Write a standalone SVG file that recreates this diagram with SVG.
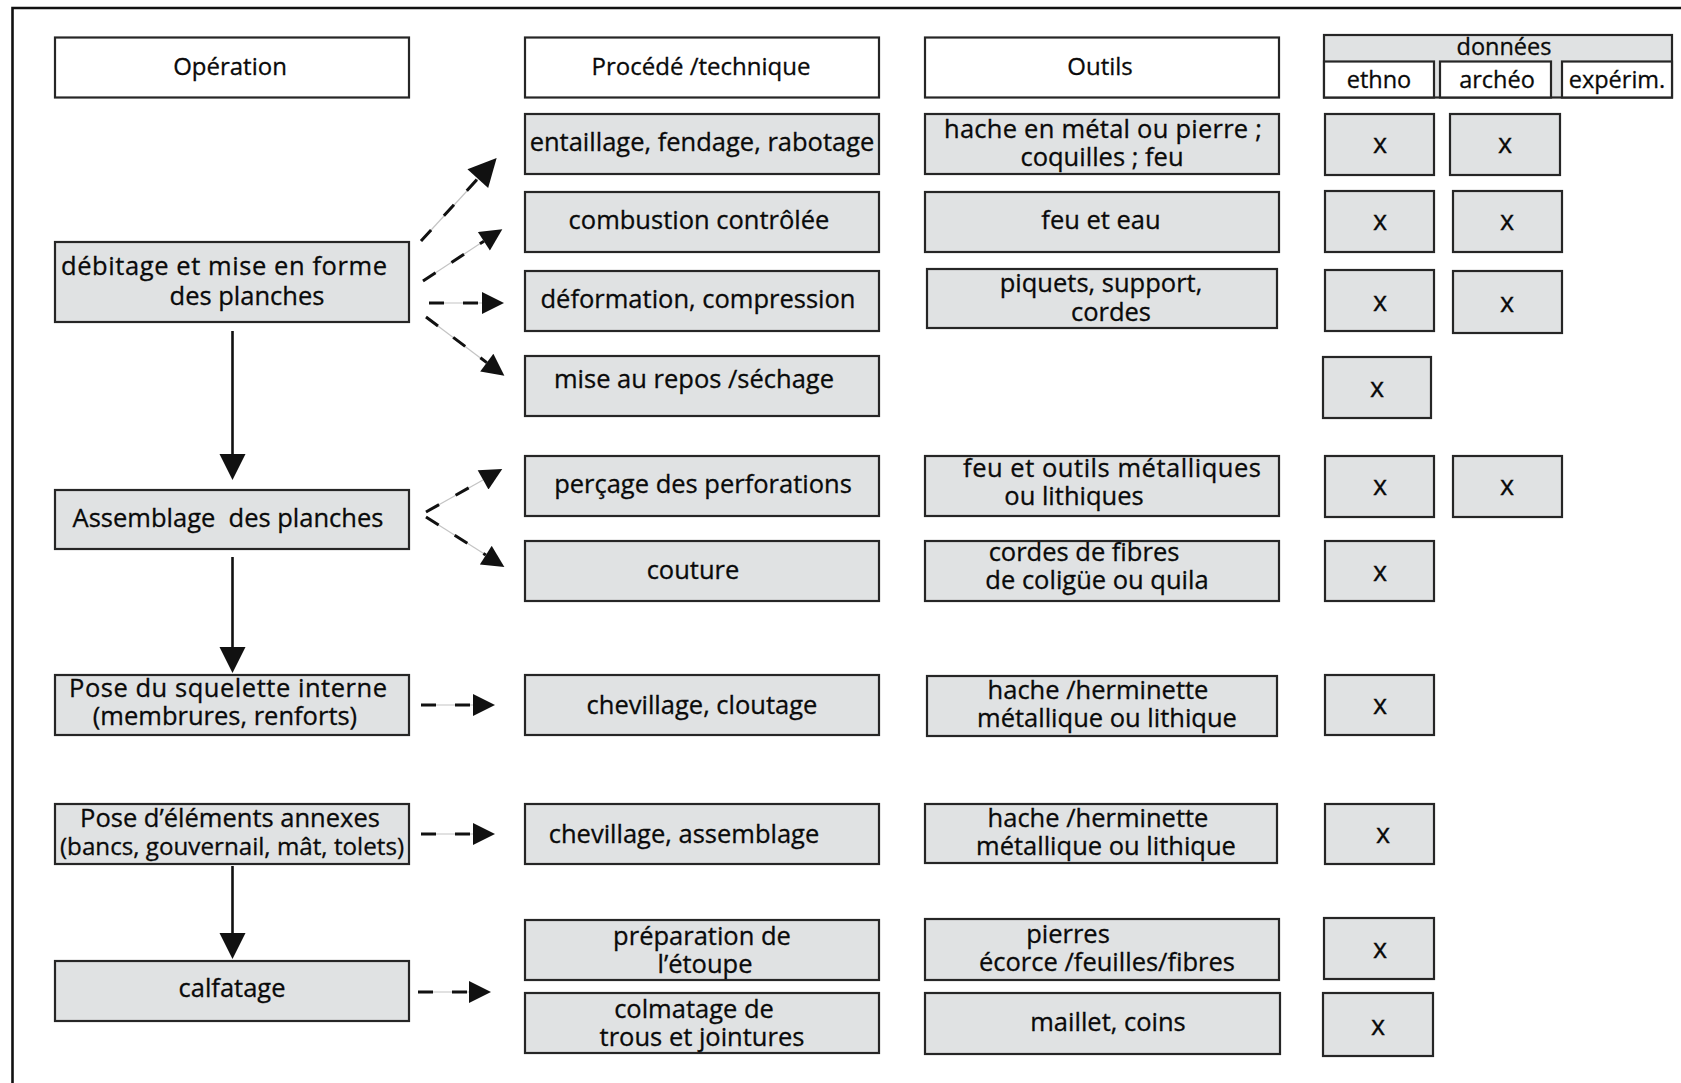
<svg xmlns="http://www.w3.org/2000/svg" width="1681" height="1083" viewBox="0 0 1681 1083">
<style>
  .box { fill: #e0e2e3; stroke: #262626; stroke-width: 2.2; }
  .hdr { fill: #ffffff; stroke: #262626; stroke-width: 2.2; }
  text { font-family: "Open Sans", "Noto Sans", "Liberation Sans", sans-serif; fill: #0a0a0a; stroke: #0a0a0a; stroke-width: 0.3; text-anchor: middle; }
  .t { font-size: 25.5px; }
  .s { font-size: 24.2px; }
  .h { font-size: 24px; }
  .d { font-size: 23.5px; }
  .x { font-size: 27px; }
  .solid { stroke: #111; stroke-width: 2.6; fill: none; }
  .faint { stroke: #c4c4c4; stroke-width: 1.2; fill: none; }
  .dash { stroke: #111; stroke-width: 3; fill: none; stroke-dasharray: 15 19; }
</style>
<defs>
  <marker id="ahBig" viewBox="0 0 10 10" refX="0" refY="5" markerWidth="26" markerHeight="28" markerUnits="userSpaceOnUse" orient="auto">
    <path d="M0,0 L10,5 L0,10 z" fill="#111"/>
  </marker>
  <marker id="ah" viewBox="0 0 10 10" refX="0" refY="5" markerWidth="24" markerHeight="22" markerUnits="userSpaceOnUse" orient="auto">
    <path d="M0,0 L10,5 L0,10 z" fill="#111"/>
  </marker>
  <marker id="ahA" viewBox="0 0 10 10" refX="0" refY="5" markerWidth="36" markerHeight="28" markerUnits="userSpaceOnUse" orient="auto">
    <path d="M0,0 L10,5 L0,10 z" fill="#111"/>
  </marker>
</defs>

<!-- frame -->
<path d="M12.5,1083 V8 H1681" fill="none" stroke="#111" stroke-width="2.6"/>

<!-- headers -->
<g id="hdr-operation"><rect class="hdr" x="55" y="37.5" width="354" height="60"/><text class="h" x="230" y="75">Opération</text></g>
<g id="hdr-procede"><rect class="hdr" x="525" y="37.5" width="354" height="60"/><text class="h" x="701" y="75">Procédé /technique</text></g>
<g id="hdr-outils"><rect class="hdr" x="925" y="37.5" width="354" height="60"/><text class="h" x="1100" y="75">Outils</text></g>
<g id="hdr-donnees">
  <rect class="box" x="1324" y="35" width="348" height="62.5"/>
  <text class="d" x="1504" y="55">données</text>
  <rect class="hdr" x="1324" y="61.5" width="110" height="36"/><text class="d" x="1379" y="88">ethno</text>
  <rect class="hdr" x="1440" y="61.5" width="111" height="36"/><text class="d" x="1497" y="88">archéo</text>
  <rect class="hdr" x="1562" y="61.5" width="110" height="36"/><text class="d" x="1617" y="88">expérim.</text>
</g>

<!-- operation column -->
<g id="op-debitage"><rect class="box" x="55" y="242" width="354" height="80"/><text class="t" x="224" y="275" textLength="326">débitage et mise en forme</text><text class="t" x="247" y="305">des planches</text></g>
<g id="op-assemblage"><rect class="box" x="55" y="490" width="354" height="59"/><text class="t" x="228" y="527" xml:space="preserve">Assemblage  des planches</text></g>
<g id="op-squelette"><rect class="box" x="55" y="675" width="354" height="60"/><text class="t" x="228" y="697" textLength="318">Pose du squelette interne</text><text class="t" x="225" y="725">(membrures, renforts)</text></g>
<g id="op-annexes"><rect class="box" x="55" y="804" width="354" height="60"/><text class="t" x="230" y="827">Pose d’éléments annexes</text><text class="s" x="232" y="855">(bancs, gouvernail, mât, tolets)</text></g>
<g id="op-calfatage"><rect class="box" x="55" y="961" width="354" height="60"/><text class="t" x="232" y="997">calfatage</text></g>

<!-- procédé column -->
<g id="pr-entaillage"><rect class="box" x="525" y="114" width="354" height="60"/><text class="t" x="702" y="151">entaillage, fendage, rabotage</text></g>
<g id="pr-combustion"><rect class="box" x="525" y="192" width="354" height="60"/><text class="t" x="699" y="229">combustion contrôlée</text></g>
<g id="pr-deformation"><rect class="box" x="525" y="271" width="354" height="60"/><text class="t" x="698" y="308">déformation, compression</text></g>
<g id="pr-repos"><rect class="box" x="525" y="356" width="354" height="60"/><text class="t" x="694" y="388">mise au repos /séchage</text></g>
<g id="pr-percage"><rect class="box" x="525" y="456" width="354" height="60"/><text class="t" x="703" y="493">perçage des perforations</text></g>
<g id="pr-couture"><rect class="box" x="525" y="541" width="354" height="60"/><text class="t" x="693" y="579">couture</text></g>
<g id="pr-cloutage"><rect class="box" x="525" y="675" width="354" height="60"/><text class="t" x="702" y="714">chevillage, cloutage</text></g>
<g id="pr-assemblage"><rect class="box" x="525" y="804" width="354" height="60"/><text class="t" x="684" y="843">chevillage, assemblage</text></g>
<g id="pr-etoupe"><rect class="box" x="525" y="920" width="354" height="60"/><text class="t" x="702" y="945">préparation de</text><text class="t" x="705" y="973">l’étoupe</text></g>
<g id="pr-colmatage"><rect class="box" x="525" y="993" width="354" height="60"/><text class="t" x="694" y="1018">colmatage de</text><text class="t" x="702" y="1046">trous et jointures</text></g>

<!-- outils column -->
<g id="ou-1"><rect class="box" x="925" y="114" width="354" height="60"/><text class="t" x="1103" y="138" textLength="318">hache en métal ou pierre ;</text><text class="t" x="1102" y="166">coquilles ; feu</text></g>
<g id="ou-2"><rect class="box" x="925" y="192" width="354" height="60"/><text class="t" x="1101" y="229">feu et eau</text></g>
<g id="ou-3"><rect class="box" x="927" y="269" width="350" height="59"/><text class="t" x="1101" y="292">piquets, support,</text><text class="t" x="1111" y="321">cordes</text></g>
<g id="ou-5"><rect class="box" x="925" y="456" width="354" height="60"/><text class="t" x="1112" y="477" textLength="298">feu et outils métalliques</text><text class="t" x="1074" y="505">ou lithiques</text></g>
<g id="ou-6"><rect class="box" x="925" y="541" width="354" height="60"/><text class="t" x="1084" y="561">cordes de fibres</text><text class="t" x="1097" y="589">de coligüe ou quila</text></g>
<g id="ou-7"><rect class="box" x="927" y="676" width="350" height="60"/><text class="t" x="1098" y="699">hache /herminette</text><text class="t" x="1107" y="727">métallique ou lithique</text></g>
<g id="ou-8"><rect class="box" x="925" y="804" width="352" height="59"/><text class="t" x="1098" y="827">hache /herminette</text><text class="t" x="1106" y="855">métallique ou lithique</text></g>
<g id="ou-9"><rect class="box" x="925" y="919" width="354" height="61"/><text class="t" x="1068" y="943">pierres</text><text class="t" x="1107" y="971">écorce /feuilles/fibres</text></g>
<g id="ou-10"><rect class="box" x="925" y="993" width="355" height="61"/><text class="t" x="1108" y="1031">maillet, coins</text></g>

<!-- données x boxes -->
<g id="x-1e"><rect class="box" x="1325" y="114" width="109" height="61"/><text class="x" x="1380" y="153">x</text></g>
<g id="x-1a"><rect class="box" x="1450" y="114" width="110" height="61"/><text class="x" x="1505" y="153">x</text></g>
<g id="x-2e"><rect class="box" x="1325" y="191" width="109" height="61"/><text class="x" x="1380" y="230">x</text></g>
<g id="x-2a"><rect class="box" x="1453" y="191" width="109" height="61"/><text class="x" x="1507" y="230">x</text></g>
<g id="x-3e"><rect class="box" x="1325" y="270" width="109" height="61"/><text class="x" x="1380" y="311">x</text></g>
<g id="x-3a"><rect class="box" x="1453" y="271" width="109" height="62"/><text class="x" x="1507" y="312">x</text></g>
<g id="x-4e"><rect class="box" x="1323" y="357" width="108" height="61"/><text class="x" x="1377" y="397">x</text></g>
<g id="x-5e"><rect class="box" x="1325" y="456" width="109" height="61"/><text class="x" x="1380" y="495">x</text></g>
<g id="x-5a"><rect class="box" x="1453" y="456" width="109" height="61"/><text class="x" x="1507" y="495">x</text></g>
<g id="x-6e"><rect class="box" x="1325" y="541" width="109" height="60"/><text class="x" x="1380" y="581">x</text></g>
<g id="x-7e"><rect class="box" x="1325" y="675" width="109" height="60"/><text class="x" x="1380" y="714">x</text></g>
<g id="x-8e"><rect class="box" x="1325" y="804" width="109" height="60"/><text class="x" x="1383" y="843">x</text></g>
<g id="x-9e"><rect class="box" x="1324" y="918" width="110" height="61"/><text class="x" x="1380" y="958">x</text></g>
<g id="x-10e"><rect class="box" x="1323" y="993" width="110" height="63"/><text class="x" x="1378" y="1035">x</text></g>

<!-- connectors -->
<g id="connectors">
  <line class="solid" x1="232.5" y1="331" x2="232.5" y2="454" marker-end="url(#ahBig)"/>
  <line class="solid" x1="232.5" y1="557" x2="232.5" y2="647" marker-end="url(#ahBig)"/>
  <line class="solid" x1="232.5" y1="866" x2="232.5" y2="933" marker-end="url(#ahBig)"/>

  <line class="faint" x1="421" y1="241" x2="478" y2="179"/>
  <line class="dash" x1="421" y1="241" x2="477.8" y2="178.6" marker-end="url(#ahA)"/>
  <line class="faint" x1="423" y1="281" x2="484" y2="241"/>
  <line class="dash" x1="423" y1="281" x2="483.9" y2="241.2" marker-end="url(#ah)"/>
  <line class="faint" x1="429" y1="303" x2="482" y2="303"/>
  <line class="dash" x1="429" y1="303" x2="482" y2="303" marker-end="url(#ah)"/>
  <line class="faint" x1="426" y1="317" x2="487" y2="363"/>
  <line class="dash" x1="426" y1="317" x2="486.8" y2="362.6" marker-end="url(#ah)"/>
  <line class="faint" x1="426" y1="512" x2="483" y2="480"/>
  <line class="dash" x1="426" y1="512" x2="483.1" y2="479.8" marker-end="url(#ah)"/>
  <line class="faint" x1="426" y1="517" x2="486" y2="555"/>
  <line class="dash" x1="426" y1="517" x2="485.8" y2="555.1" marker-end="url(#ah)"/>
  <line class="faint" x1="421" y1="705" x2="473" y2="705"/>
  <line class="dash" x1="421" y1="705" x2="473" y2="705" marker-end="url(#ah)"/>
  <line class="faint" x1="421" y1="834" x2="473" y2="834"/>
  <line class="dash" x1="421" y1="834" x2="473" y2="834" marker-end="url(#ah)"/>
  <line class="faint" x1="418" y1="992" x2="469" y2="992"/>
  <line class="dash" x1="418" y1="992" x2="469" y2="992" marker-end="url(#ah)"/>
</g>
</svg>
